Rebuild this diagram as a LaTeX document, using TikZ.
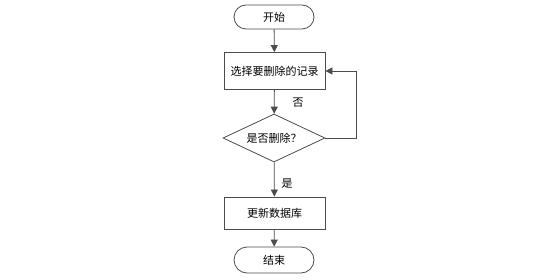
\documentclass[tikz,border=0pt]{standalone}
\usepackage{fontspec}
\setmainfont{Noto Sans CJK SC}
\usetikzlibrary{arrows.meta,shapes.geometric}
\begin{document}
\begin{tikzpicture}[x=1pt,y=-1pt,
  line width=0.8pt,
  every node/.style={font=\fontsize{11}{13}\selectfont, text=black},
  term/.style={draw=black!70, rounded corners=12pt, minimum width=80pt, minimum height=24pt, inner sep=0pt},
  proc/.style={draw=black!70, minimum width=101pt, minimum height=37pt, inner sep=0pt},
  dec/.style={draw=black!70, diamond, aspect=2.1, minimum width=102pt, minimum height=48pt, inner sep=0pt},
  arr/.style={draw=black!70, -{Triangle[length=7pt,width=7pt]}},
  lbl/.style={inner sep=0pt}]
\useasboundingbox (0,0) rectangle (534,280);
\node[term] (start) at (274,17) {开始};
\node[proc] (sel) at (274.5,71) {选择要删除的记录};
\node[dec] (dec) at (274,138) {是否删除？};
\node[proc, minimum height=32pt] (upd) at (274.5,213) {更新数据库};
\node[term, minimum height=26pt, rounded corners=13pt] (end) at (274,260) {结束};
\coordinate (c1) at (356,138);
\coordinate (c2) at (356,71);
\draw[arr] (start) -- (sel);
\draw[arr] (sel) -- (dec);
\draw[arr] (dec) -- (upd);
\draw[arr] (upd) -- (end);
\draw[arr] (dec.east) -- (c1) -- (c2) -- (sel.east);
\node[lbl] (no) at (298,103) {否};
\node[lbl] (yes) at (287,184) {是};
\end{tikzpicture}
\end{document}
